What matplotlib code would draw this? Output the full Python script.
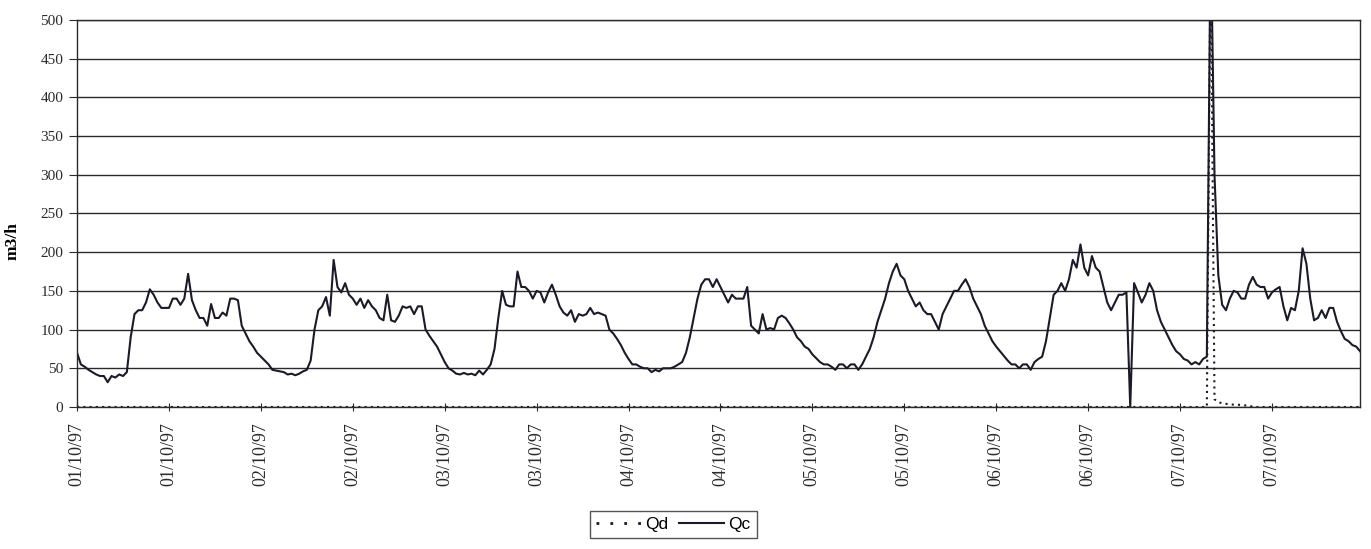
import matplotlib.pyplot as plt
import numpy as np

# half-hourly flow values (m3/h), 01/10/97 00:00 onwards
qc_day1 = [70, 55, 52, 48, 45, 42, 40, 40, 32, 40, 38, 42, 40, 45, 90, 120,
           125, 125, 135, 152, 145, 135, 128, 128, 128, 140, 140, 132, 140, 172, 138, 125,
           115, 115, 105, 133, 115, 115, 122, 118, 140, 140, 138, 105, 95, 85, 78, 70]
qc_day2 = [65, 60, 55, 48, 47, 46, 45, 42, 43, 41, 43, 46, 48, 60, 100, 125,
           130, 142, 118, 190, 155, 148, 160, 145, 140, 132, 140, 128, 138, 130, 125, 115,
           112, 145, 112, 110, 118, 130, 128, 130, 120, 130, 130, 100, 92, 85, 78, 68]
qc_day3 = [58, 50, 47, 43, 42, 44, 42, 43, 41, 47, 42, 48, 55, 75, 115, 150,
           132, 130, 130, 175, 155, 155, 150, 140, 150, 148, 135, 148, 158, 145, 130, 122,
           118, 125, 110, 120, 118, 120, 128, 120, 122, 120, 118, 100, 95, 88, 80, 70]
qc_day4 = [62, 55, 55, 52, 50, 50, 45, 48, 46, 50, 50, 50, 52, 55, 58, 70,
           90, 115, 140, 158, 165, 165, 155, 165, 155, 145, 135, 145, 140, 140, 140, 155,
           105, 100, 95, 120, 100, 102, 100, 115, 118, 115, 108, 100, 90, 85, 78, 75]
qc_day5 = [68, 63, 58, 55, 55, 52, 48, 55, 55, 50, 55, 55, 48, 55, 65, 75,
           90, 110, 125, 140, 160, 175, 185, 170, 165, 150, 140, 130, 135, 125, 120, 120,
           110, 100, 120, 130, 140, 150, 150, 158, 165, 155, 140, 130, 120, 105, 95, 85]
qc_day6 = [78, 72, 66, 60, 55, 55, 50, 55, 55, 48, 58, 62, 65, 85, 115, 145,
           150, 160, 150, 165, 190, 180, 210, 180, 170, 195, 180, 175, 155, 135, 125, 135,
           145, 145, 148, 0, 160, 148, 135, 145, 160, 150, 125, 110, 100, 90, 80, 72]
qc_day7 = [68, 62, 60, 55, 58, 55, 62, 65, 620, 300, 170, 132, 125, 140, 150, 148,
           140, 140, 158, 168, 158, 155, 155, 140, 148, 152, 155, 130, 112, 128, 125, 150,
           205, 185, 140, 112, 115, 125, 115, 128, 128, 110, 98, 88, 85, 80, 78, 72]

# overflow discharge: zero except around the storm on 07/10
qd_event_start = 296  # half-hour index of 07/10/97 04:00
qd_event = [0, 600, 10, 6, 5, 4, 3.5, 3, 3, 2.5, 2, 2, 0]

tick_labels = ["01/10/97", "01/10/97", "02/10/97", "02/10/97", "03/10/97",
               "03/10/97", "04/10/97", "04/10/97", "05/10/97", "05/10/97",
               "06/10/97", "06/10/97", "07/10/97", "07/10/97"]

qc = np.array(qc_day1 + qc_day2 + qc_day3 + qc_day4 + qc_day5 + qc_day6 + qc_day7,
              dtype=float)
hours = np.arange(len(qc)) * 0.5
qd = np.zeros_like(qc)
qd[qd_event_start - 1:qd_event_start - 1 + len(qd_event)] = qd_event

serif = "Liberation Serif"
sans = "Liberation Sans"
ink = "#1a1a28"

fig = plt.figure(figsize=(13.71, 5.49), dpi=100)
ax = fig.add_axes([0.0562, 0.2587, 0.9358, 0.7049])

ax.plot(hours, qd, color=ink, linestyle=(0, (1, 2)), linewidth=1.5, label="Qd")
ax.plot(hours, qc, color=ink, linewidth=1.5, label="Qc")

ax.set_xlim(0, 167.5)
ax.set_ylim(0, 500)
ax.set_yticks(np.arange(0, 501, 50))
ax.grid(True, axis="y", color="#2a2a2a", linewidth=1.0)
ax.set_axisbelow(True)

ax.set_xticks(np.arange(len(tick_labels)) * 12)
ax.set_xticklabels(tick_labels, rotation=90, fontfamily=serif, fontsize=13)
for lab in ax.get_yticklabels():
    lab.set_fontfamily(serif)
    lab.set_fontsize(11)
ax.tick_params(axis="x", direction="inout", length=6, width=0.8, pad=8, colors="#2a2a2a")
ax.tick_params(axis="y", direction="out", length=6, width=0.8, pad=4, colors="#2a2a2a")

for side in ["left", "bottom", "top", "right"]:
    ax.spines[side].set_linewidth(1.0)
    ax.spines[side].set_color("#2a2a2a")

ax.set_ylabel("m3/h", fontfamily=serif, fontsize=12.5, fontweight="bold")
ax.yaxis.set_label_coords(-0.044, 0.43)

leg = fig.legend(loc="center", bbox_to_anchor=(0.491, 0.044), ncol=2,
                 prop={"family": sans, "size": 12.5}, frameon=True, fancybox=False,
                 edgecolor="#2a2a2a", handlelength=2.6, handletextpad=0.25,
                 columnspacing=0.6, borderpad=0.35, borderaxespad=0)
leg.get_frame().set_linewidth(1.0)
leg.get_lines()[0].set_linestyle((0, (1, 4)))
leg.get_lines()[0].set_linewidth(2)

fig.savefig("out.png", dpi=100)
